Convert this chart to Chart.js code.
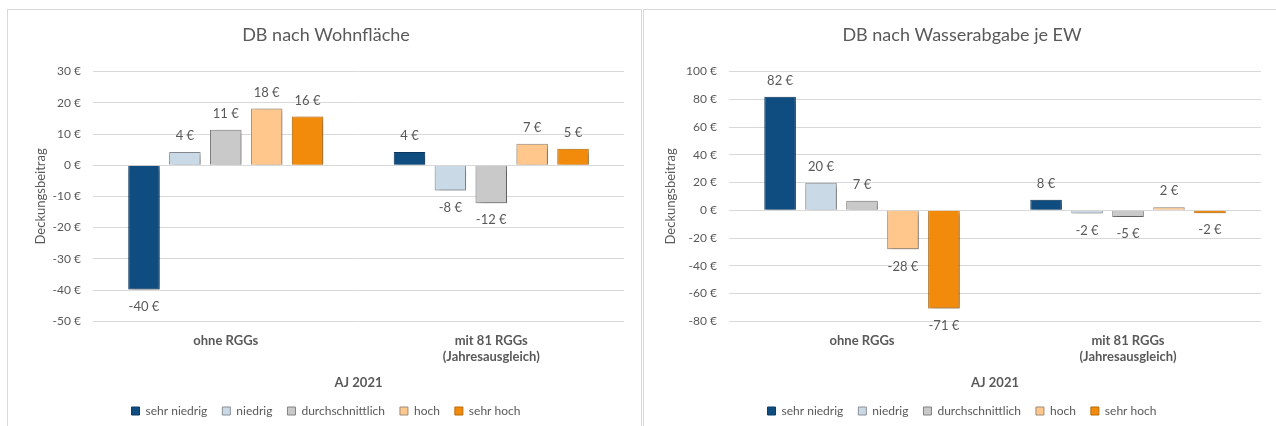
<!DOCTYPE html>
<html><head><meta charset="utf-8">
<script src="https://cdn.jsdelivr.net/npm/chart.js@4/dist/chart.umd.min.js"></script>
<style>
html,body{margin:0;padding:0;background:#fff;width:1276px;height:426px;overflow:hidden;font-family:Lato,sans-serif}
.panel{position:absolute;top:9px;height:430px;border:1px solid #d9d9d9;box-sizing:border-box;background:#fff}
#p1{left:7px;width:635px}
#p2{left:643px;width:640px}
canvas{position:absolute}
#c1{left:8px;top:10px}
#c2{left:645px;top:10px}
</style></head>
<body>
<div class="panel" id="p1"></div>
<div class="panel" id="p2"></div>
<canvas id="c1" width="633" height="424"></canvas>
<canvas id="c2" width="631" height="424"></canvas>
<script>
// ---- data ----
const categories = [["ohne RGGs"], ["mit 81 RGGs", "(Jahresausgleich)"]];
const seriesNames = ["sehr niedrig", "niedrig", "durchschnittlich", "hoch", "sehr hoch"];
const xAxisTitle = "AJ 2021";
const yAxisTitle = "Deckungsbeitrag";

const title1 = "DB nach Wohnfläche";
const wohn_sehrNiedrig = [-39.8, 4.2];
const wohn_niedrig = [4.2, -8.1];
const wohn_durchschnitt = [11.4, -12.2];
const wohn_hoch = [18.2, 6.9];
const wohn_sehrHoch = [15.6, 5.3];
const wohnTicks = {min: -50, max: 30, step: 10};

const title2 = "DB nach Wasserabgabe je EW";
const wasser_sehrNiedrig = [81.8, 7.6];
const wasser_niedrig = [19.8, -2.3];
const wasser_durchschnitt = [6.8, -4.8];
const wasser_hoch = [-28.2, 2.2];
const wasser_sehrHoch = [-70.8, -2.1];
const wasserTicks = {min: -80, max: 100, step: 20};

// ---- styles ----
const fills = ["#0f4c7f", "#c9d9e6", "#c9c9c9", "#ffc78b", "#f28b0c"];
const borders = ["#0b3a63", "#8c9096", "#808080", "#9b8c7c", "#b86a08"];
const txt = "#595959";
const FONT = "Lato, 'Open Sans', sans-serif";

const shadowPlugin = {
  id: 'shadow',
  beforeDatasetsDraw(chart) {
    const c = chart.ctx; c.save();
    c.shadowColor = 'rgba(0,0,0,0.4)'; c.shadowBlur = 5; c.shadowOffsetX = 2; c.shadowOffsetY = 2;
  },
  afterDatasetsDraw(chart) { chart.ctx.restore(); }
};
const valueLabels = {
  id: 'valueLabels',
  afterDraw(chart) {
    const c = chart.ctx; c.save();
    c.font = "13px " + FONT; c.fillStyle = txt; c.textAlign = 'center'; c.textBaseline = 'middle';
    chart.data.datasets.forEach((ds, i) => {
      chart.getDatasetMeta(i).data.forEach((bar, j) => {
        const v = ds.data[j];
        const y = v >= 0 ? bar.y - 16 : bar.y + 17;
        c.fillText(Math.round(v) + " €", bar.x, y);
      });
    });
    c.restore();
  }
};

function makeChart(id, title, series, ticks, padLeft, padRight, yWidth, yTitlePad) {
  return new Chart(document.getElementById(id), {
    type: 'bar',
    data: {
      labels: categories,
      datasets: series.map((d, i) => ({
        label: seriesNames[i], data: d,
        backgroundColor: fills[i], borderColor: borders[i], borderWidth: 1,
        categoryPercentage: 0.77, barPercentage: 0.77
      }))
    },
    options: {
      responsive: false, animation: false,
      layout: {padding: {left: padLeft, right: padRight, top: 0, bottom: 7}},
      plugins: {
        title: {display: true, text: title, color: txt, font: {family: FONT, size: 18, weight: 'normal'}, padding: {top: 14, bottom: 26}},
        legend: {position: 'bottom', labels: {boxWidth: 8, boxHeight: 8, padding: 15, color: txt, font: {family: FONT, size: 12}}},
        tooltip: {enabled: false}
      },
      scales: {
        x: {
          grid: {display: false, drawTicks: false}, border: {display: false},
          ticks: {color: txt, font: {family: FONT, size: 13, weight: 'bold', lineHeight: 1.25}, padding: 11, maxRotation: 0, autoSkip: false},
          title: {display: true, text: xAxisTitle, color: txt, font: {family: FONT, size: 13, weight: 'bold', lineHeight: 1.1}, padding: {top: 0, bottom: 0}}
        },
        y: {
          min: ticks.min, max: ticks.max,
          ticks: {stepSize: ticks.step, color: txt, font: {family: FONT, size: 12}, padding: 12, callback: v => v + " €"},
          grid: {color: '#d9d9d9', drawTicks: false}, border: {display: false},
          title: {display: true, text: yAxisTitle, color: txt, font: {family: FONT, size: 13}, padding: {top: yTitlePad, bottom: 0}},
          afterFit: s => { s.width = yWidth; }
        }
      }
    },
    plugins: [shadowPlugin, valueLabels]
  });
}

makeChart('c1', title1, [wohn_sehrNiedrig, wohn_niedrig, wohn_durchschnitt, wohn_hoch, wohn_sehrHoch], wohnTicks, 20, 17, 65, 5);
makeChart('c2', title2, [wasser_sehrNiedrig, wasser_niedrig, wasser_durchschnitt, wasser_hoch, wasser_sehrHoch], wasserTicks, 18, 15, 66, 0);
</script>
</body></html>
